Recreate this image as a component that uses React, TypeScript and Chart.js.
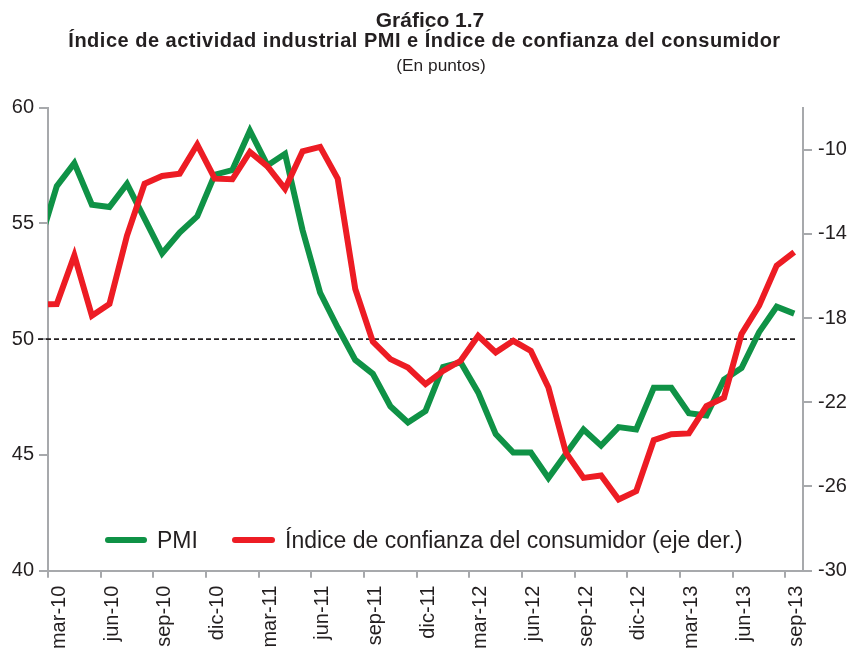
import React, { useEffect, useRef } from "react";
import { Chart, registerables } from "chart.js";

Chart.register(...registerables);

// Monthly categories (feb-10 is only partly visible at the left edge, as in the source)
const months = [
  "feb-10", "mar-10", "abr-10", "may-10", "jun-10", "jul-10", "ago-10", "sep-10", "oct-10", "nov-10", "dic-10",
  "ene-11", "feb-11", "mar-11", "abr-11", "may-11", "jun-11", "jul-11", "ago-11", "sep-11", "oct-11", "nov-11", "dic-11",
  "ene-12", "feb-12", "mar-12", "abr-12", "may-12", "jun-12", "jul-12", "ago-12", "sep-12", "oct-12", "nov-12", "dic-12",
  "ene-13", "feb-13", "mar-13", "abr-13", "may-13", "jun-13", "jul-13", "ago-13", "sep-13",
];

const tickLabels = [
  "mar-10", "jun-10", "sep-10", "dic-10", "mar-11", "jun-11", "sep-11", "dic-11",
  "mar-12", "jun-12", "sep-12", "dic-12", "mar-13", "jun-13", "sep-13",
];

const pmi = [
  54.1, 56.6, 57.6, 55.8, 55.7, 56.7, 55.2, 53.7, 54.6, 55.3, 57.1,
  57.3, 59.0, 57.5, 58.0, 54.7, 52.0, 50.5, 49.1, 48.5, 47.1, 46.4, 46.9,
  48.8, 49.0, 47.7, 45.9, 45.1, 45.1, 44.0, 45.05, 46.1, 45.4, 46.2, 46.1,
  47.9, 47.9, 46.8, 46.7, 48.25, 48.75, 50.3, 51.4, 51.1,
];

const confianza = [
  -17.35, -17.33, -15.03, -17.89, -17.33, -14.08, -11.62, -11.25, -11.14, -9.76, -11.38,
  -11.41, -10.11, -10.8, -11.86, -10.08, -9.87, -11.38, -16.62, -19.12, -19.95, -20.35, -21.14,
  -20.51, -20.03, -18.84, -19.63, -19.08, -19.56, -21.3, -24.4, -25.59, -25.48, -26.62, -26.22,
  -23.8, -23.52, -23.48, -22.18, -21.78, -18.76, -17.41, -15.51, -14.87,
];

const leftTicks = [40, 45, 50, 55, 60];
const rightTicks = [-30, -26, -22, -18, -14, -10];
const leftRange = [40, 60];
const rightRange = [-30, -8];
const referenceLevel = 50;

const seriesNames = ["PMI", "Índice de confianza del consumidor (eje der.)"];
const titleLine1 = "Gráfico 1.7";
const titleLine2 = "Índice de actividad industrial PMI e Índice de confianza del consumidor";
const subtitleText = "(En puntos)";

const GREEN = "#0f9246";
const RED = "#ed1c24";
const AXIS = "#a7a9ac";
const TEXT = "#231f20";
const FONT = "'Liberation Sans', Arial, Helvetica, sans-serif";
const W = 851;
const H = 654;

const refLinePlugin = {
  id: "refLine",
  beforeDatasetsDraw(chart: any) {
    const y = chart.scales.y;
    const x = chart.scales.x;
    const py = y.getPixelForValue(referenceLevel);
    const ctx = chart.ctx;
    ctx.save();
    ctx.strokeStyle = TEXT;
    ctx.lineWidth = 1.8;
    ctx.setLineDash([5, 3]);
    ctx.beginPath();
    ctx.moveTo(x.left - 10, py);
    ctx.lineTo(x.getPixelForValue(months.length - 1) + 3, py);
    ctx.stroke();
    ctx.restore();
  },
};

export default function App() {
  const ref = useRef<HTMLCanvasElement | null>(null);

  useEffect(() => {
    if (!ref.current) return;
    const tickIdx = tickLabels.map((l) => months.indexOf(l));
    const chart = new Chart(ref.current, {
      type: "line",
      data: {
        datasets: [
          {
            label: seriesNames[0],
            data: pmi.map((v, i) => ({ x: i, y: v })),
            borderColor: GREEN,
            backgroundColor: GREEN,
            borderWidth: 6,
            pointRadius: 0,
            tension: 0,
            yAxisID: "y",
            xAxisID: "x",
            clip: 0,
            order: 2,
          },
          {
            label: seriesNames[1],
            data: confianza.map((v, i) => ({ x: i, y: v })),
            borderColor: RED,
            backgroundColor: RED,
            borderWidth: 6,
            pointRadius: 0,
            tension: 0,
            yAxisID: "y1",
            xAxisID: "x",
            clip: 0,
            order: 1,
          },
        ],
      },
      options: {
        animation: false,
        responsive: false,
        maintainAspectRatio: false,
        layout: { padding: { top: 107.5, left: 0, right: 0, bottom: 0 } },
        plugins: {
          legend: { display: false },
          tooltip: { enabled: false },
          title: { display: false },
        },
        scales: {
          x: {
            type: "linear",
            min: 0.5,
            max: months.length - 0.5,
            afterBuildTicks: (s: any) => {
              s.ticks = tickIdx.map((i) => ({ value: i - 0.5 }));
            },
            afterFit: (s: any) => {
              s.height = H - 570.7;
            },
            ticks: {
              autoSkip: false,
              minRotation: 90,
              maxRotation: 90,
              labelOffset: 11.5,
              padding: 8,
              color: TEXT,
              font: { family: FONT, size: 20 },
              callback: (v: any) => months[Math.round(Number(v) + 0.5)],
            },
            grid: {
              drawOnChartArea: false,
              drawTicks: true,
              tickLength: 7,
              color: AXIS,
              lineWidth: 2,
            },
            border: { display: true, color: AXIS, width: 2 },
          },
          y: {
            type: "linear",
            position: "left",
            min: leftRange[0],
            max: leftRange[1],
            afterBuildTicks: (s: any) => {
              s.ticks = leftTicks.map((v) => ({ value: v }));
            },
            afterFit: (s: any) => {
              s.width = 48;
            },
            ticks: {
              padding: 5,
              color: TEXT,
              font: { family: FONT, size: 20 },
            },
            grid: {
              drawOnChartArea: false,
              drawTicks: true,
              tickLength: 9,
              color: AXIS,
              lineWidth: 2,
            },
            border: { display: true, color: AXIS, width: 2 },
          },
          y1: {
            type: "linear",
            position: "right",
            min: rightRange[0],
            max: rightRange[1],
            afterBuildTicks: (s: any) => {
              s.ticks = rightTicks.map((v) => ({ value: v }));
            },
            afterFit: (s: any) => {
              s.width = W - 803;
            },
            ticks: {
              padding: 6,
              color: TEXT,
              font: { family: FONT, size: 20 },
            },
            grid: {
              drawOnChartArea: false,
              drawTicks: true,
              tickLength: 9,
              color: AXIS,
              lineWidth: 2,
            },
            border: { display: true, color: AXIS, width: 2 },
          },
        },
      },
      plugins: [refLinePlugin],
    } as any);
    return () => chart.destroy();
  }, []);

  const legendItem = (left: number, color: string, swatchW: number, label: string) => (
    <div
      style={{
        position: "absolute",
        left,
        top: 526,
        height: 28,
        display: "flex",
        alignItems: "center",
        whiteSpace: "nowrap",
      }}
    >
      <span
        style={{
          display: "inline-block",
          width: swatchW,
          height: 6,
          borderRadius: 3,
          background: color,
          marginRight: 10,
        }}
      />
      <span style={{ fontFamily: FONT, fontSize: 23, lineHeight: "28px", color: TEXT }}>{label}</span>
    </div>
  );

  const titleText = (
    text: string,
    center: number,
    top: number,
    size: number,
    bold: boolean,
    spacing: number
  ) => (
    <div
      style={{
        position: "absolute",
        left: center - 420,
        width: 840,
        top,
        textAlign: "center",
        fontFamily: FONT,
        fontSize: size,
        lineHeight: `${size}px`,
        fontWeight: bold ? "bold" : "normal",
        letterSpacing: spacing,
        color: TEXT,
        whiteSpace: "nowrap",
      }}
    >
      {text}
    </div>
  );

  return (
    <div style={{ position: "absolute", left: 0, top: 0, width: W, height: H, background: "#fff" }}>
      <canvas ref={ref} width={W} height={H} style={{ display: "block", width: W, height: H }} />
      {titleText(titleLine1, 430, 8.9, 21, true, 0)}
      {titleText(titleLine2, 424.5, 29.8, 20, true, 0.5)}
      {titleText(subtitleText, 441, 57.1, 17.3, false, 0)}
      {legendItem(105, GREEN, 42, seriesNames[0])}
      {legendItem(232, RED, 43, seriesNames[1])}
    </div>
  );
}
